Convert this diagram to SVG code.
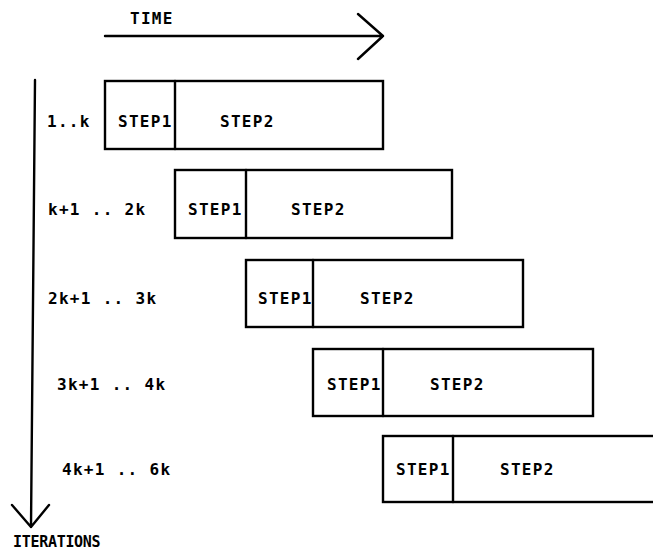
<svg xmlns="http://www.w3.org/2000/svg" width="653" height="552" viewBox="0 0 653 552">
<style>
.ln{fill:none;stroke:#000;stroke-width:2.4;stroke-linecap:round;stroke-linejoin:round}
.box{fill:#fff;stroke:#000;stroke-width:2.4}
text{font-family:"DejaVu Sans Mono","Liberation Mono",monospace;font-weight:bold;font-size:16px;letter-spacing:1.3px;fill:#000}
</style>
<rect width="653" height="552" fill="#fff"/>
<g id="connectors">
<path class="ln" d="M105 36 H383 M358 14 L383 36 L358 59"/>
<path class="ln" d="M35 80 L31 527 M12 505 L31 527 L49 505"/>
</g>
<text x="130" y="24">TIME</text>
<text x="13" y="547" style="font-size:15px;letter-spacing:-0.3px">ITERATIONS</text>
<g id="row1">
<rect class="box" x="105" y="81" width="278" height="68"/>
<line class="ln" x1="175" y1="81" x2="175" y2="149"/>
<text x="47" y="127">1..k</text>
<text x="118" y="127">STEP1</text>
<text x="220" y="127">STEP2</text>
</g>
<g id="row2">
<rect class="box" x="175" y="170" width="277" height="68"/>
<line class="ln" x1="246" y1="170" x2="246" y2="238"/>
<text x="48" y="215">k+1 .. 2k</text>
<text x="188" y="215">STEP1</text>
<text x="291" y="215">STEP2</text>
</g>
<g id="row3">
<rect class="box" x="246" y="260" width="277" height="67"/>
<line class="ln" x1="313" y1="260" x2="313" y2="327"/>
<text x="48" y="304">2k+1 .. 3k</text>
<text x="258" y="304">STEP1</text>
<text x="360" y="304">STEP2</text>
</g>
<g id="row4">
<rect class="box" x="313" y="349" width="280" height="67"/>
<line class="ln" x1="383" y1="349" x2="383" y2="416"/>
<text x="57" y="390">3k+1 .. 4k</text>
<text x="327" y="390">STEP1</text>
<text x="430" y="390">STEP2</text>
</g>
<g id="row5">
<rect class="box" x="383" y="436" width="290" height="66"/>
<line class="ln" x1="453" y1="436" x2="453" y2="502"/>
<text x="62" y="475">4k+1 .. 6k</text>
<text x="396" y="475">STEP1</text>
<text x="500" y="475">STEP2</text>
</g>
</svg>
